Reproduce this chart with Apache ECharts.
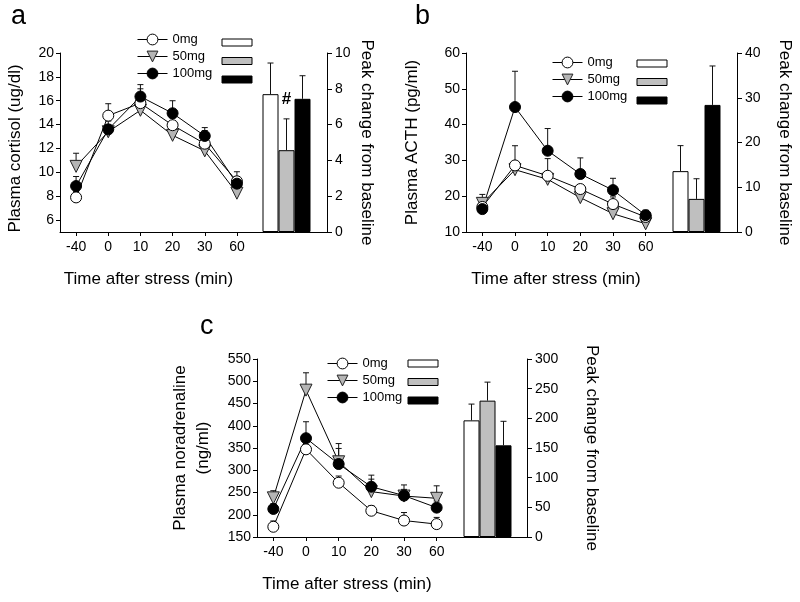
<!DOCTYPE html>
<html><head><meta charset="utf-8">
<script src="https://cdn.jsdelivr.net/npm/echarts@6/dist/echarts.min.js"></script>
<style>html,body{margin:0;padding:0;background:#fff}#c{width:800px;height:602px}</style>
</head><body><div id="c"></div>
<script>
// ---------- DATA ----------
const times = ['-40', '0', '10', '20', '30', '60'];
const doses = ['0mg', '50mg', '100mg'];
const barKeys = ['bar0mg', 'bar50mg', 'bar100mg'];

// Panel a: plasma cortisol (ug/dl)
const cortisol0 = [7.9, 14.75, 15.8, 13.95, 12.4, 9.25];
const cortisol50 = [10.5, 13.4, 15.2, 13.1, 11.8, 8.25];
const cortisol100 = [8.85, 13.6, 16.35, 14.95, 13.05, 9.05];
const cortisol0Err = [0.5, 1.0, 1.2, 0.6, 1.1, 0.8];
const cortisol50Err = [1.1, 0.6, 0.5, 0.5, 0.5, 0.4];
const cortisol100Err = [0.8, 0.7, 1.0, 1.05, 0.7, 0.6];
const cortisolPeak = [7.7, 4.57, 7.44];
const cortisolPeakErr = [1.74, 1.75, 1.29];
const cortisolTicks = [6, 8, 10, 12, 14, 16, 18, 20];
const cortisolMark = ['', '#', ''];

// Panel b: plasma ACTH (pg/ml)
const acth0 = [17.0, 28.6, 25.7, 22.0, 17.8, 14.2];
const acth50 = [18.0, 27.4, 24.7, 19.6, 15.1, 12.3];
const acth100 = [16.4, 44.9, 32.7, 26.2, 21.7, 14.7];
const acth0Err = [2.0, 5.5, 4.8, 1.0, 2.0, 1.0];
const acth50Err = [2.5, 2.0, 1.5, 1.0, 1.0, 1.0];
const acth100Err = [2.0, 10.0, 6.2, 4.5, 3.3, 1.4];
const acthPeak = [13.6, 7.4, 28.4];
const acthPeakErr = [5.7, 4.5, 8.7];

// Panel c: plasma noradrenaline (ng/ml)
const nor0 = [173, 347, 272, 209, 187, 179];
const nor50 = [238, 480, 319, 252, 242, 237];
const nor100 = [213, 372, 314, 263, 243, 216];
const nor0Err = [13, 20, 15, 11, 18, 15];
const nor50Err = [16, 39, 41, 28, 15, 28];
const nor100Err = [12, 37, 35, 26, 24, 15];
const norPeak = [196.6, 229.8, 154.5];
const norPeakErr = [27.4, 31.2, 40.5];

// ---------- STYLE ----------
const FONT = 'Liberation Sans, Arial, sans-serif';
const BAR_W = 16;
const GRAY_TRI = '#b5b5b5';
const GRAY_BAR = '#bfbfbf';
const TICK_FS = 14;
const TITLE_FS = 17;

const chart = echarts.init(document.getElementById('c'), null, {renderer: 'canvas'});

function errRender(params, api) {
  const x = api.value(0), m = api.value(1), e = api.value(2);
  const k = api.value(3);
  const shift = isNaN(k) ? 0 : (k - 1) * BAR_W;
  const p0 = api.coord([x, m]);
  const p1 = api.coord([x, m + e]);
  const cx = p0[0] + shift;
  const st = {stroke: '#111', lineWidth: 1};
  return {type: 'group', children: [
    {type: 'line', shape: {x1: cx, y1: p0[1], x2: cx, y2: p1[1]}, style: st},
    {type: 'line', shape: {x1: cx - 3, y1: p1[1], x2: cx + 3, y2: p1[1]}, style: st}
  ]};
}

function errSeries(vals, errs, idx) {
  return {type: 'custom', xAxisIndex: idx, yAxisIndex: idx, z: 1, silent: true,
    renderItem: errRender, encode: {x: 0, y: 1},
    data: vals.map((v, i) => [i, v, errs[i]])};
}
function barErrSeries(vals, errs, idx) {
  return {type: 'custom', xAxisIndex: idx, yAxisIndex: idx, z: 4, silent: true,
    renderItem: errRender, encode: {x: 0, y: 1},
    data: vals.map((v, i) => [0, v, errs[i], i])};
}
const symStyles = {
  '0mg': {symbol: 'circle', symbolSize: 11, symbolRotate: 0, itemStyle: {color: '#fff', borderColor: '#000', borderWidth: 1}},
  '50mg': {symbol: 'triangle', symbolSize: 12, symbolRotate: 180, itemStyle: {color: GRAY_TRI, borderColor: '#222', borderWidth: 1}},
  '100mg': {symbol: 'circle', symbolSize: 11, symbolRotate: 0, itemStyle: {color: '#000', borderColor: '#000', borderWidth: 1}}
};
function lineSeries(name, vals, idx) {
  const s = symStyles[name];
  return Object.assign({type: 'line', name: name, xAxisIndex: idx, yAxisIndex: idx, z: 3,
    data: vals, lineStyle: {color: '#000', width: 1}, showSymbol: true}, s);
}
const barColors = ['#fff', GRAY_BAR, '#000'];
function barSeries(k, val, idx, mark) {
  const s = {type: 'bar', name: barKeys[k], xAxisIndex: idx, yAxisIndex: idx, z: 2,
    data: [val], barWidth: BAR_W, barGap: '0%',
    itemStyle: {color: barColors[k], borderColor: '#000', borderWidth: 1}};
  if (mark && mark[k]) {
    s.label = {show: true, position: 'top', distance: 42, formatter: mark[k],
      fontSize: 17, fontWeight: 'bold', color: '#000', fontFamily: FONT};
  }
  return s;
}

const grids = [
  {left: 60, top: 53, width: 193, height: 179},
  {left: 246, top: 53, width: 81, height: 179},
  {left: 466, top: 53, width: 196, height: 179},
  {left: 656, top: 53, width: 81, height: 179},
  {left: 257, top: 359, width: 196, height: 178},
  {left: 448, top: 359, width: 79, height: 178}
];

const axLine = {show: true, lineStyle: {color: '#000', width: 1}};
function lineX(idx) {
  return {type: 'category', gridIndex: idx, data: times, boundaryGap: true,
    axisLine: axLine, axisTick: {show: true, alignWithLabel: true, length: 4, lineStyle: {color: '#000'}},
    axisLabel: {color: '#000', fontSize: TICK_FS, margin: 8, fontFamily: FONT},
    name: 'Time after stress (min)', nameLocation: 'middle', nameGap: 39,
    nameTextStyle: {color: '#000', fontSize: TITLE_FS, fontFamily: FONT, padding: [0, 16, 0, 0]}};
}
function barX(idx) {
  return {type: 'category', gridIndex: idx, data: ['peak'], axisLine: axLine,
    axisTick: {show: false}, axisLabel: {show: false}};
}
function leftY(idx, name, min, max, interval, gap, extra) {
  const a = {type: 'value', gridIndex: idx, position: 'left', min: min, max: max, interval: interval,
    axisLine: axLine, axisTick: {show: true, length: 4, lineStyle: {color: '#000'}},
    axisLabel: {color: '#000', fontSize: TICK_FS, margin: 6, fontFamily: FONT},
    splitLine: {show: false},
    name: name, nameLocation: 'middle', nameRotate: 90, nameGap: gap,
    nameTextStyle: {color: '#000', fontSize: TITLE_FS, fontFamily: FONT, lineHeight: 23}};
  return Object.assign(a, extra || {});
}
function rightY(idx, min, max, interval, gap) {
  return {type: 'value', gridIndex: idx, position: 'right', min: min, max: max, interval: interval,
    axisLine: axLine, axisTick: {show: true, length: 5, lineStyle: {color: '#000'}},
    axisLabel: {color: '#000', fontSize: TICK_FS, margin: 8, fontFamily: FONT},
    splitLine: {show: false},
    name: 'Peak change from baseline', nameLocation: 'middle', nameRotate: -90, nameGap: gap,
    nameTextStyle: {color: '#000', fontSize: TITLE_FS, fontFamily: FONT}};
}

function lineLegend(left, top) {
  return {show: true, orient: 'vertical', left: left, top: top, padding: 0,
    itemWidth: 30, itemHeight: 13.5, itemGap: 4, selectedMode: false, data: doses,
    itemStyle: {borderWidth: 1}, lineStyle: {width: 1, color: '#000'},
    textStyle: {color: '#000', fontSize: 13, fontFamily: FONT}};
}
function barLegend(left, top) {
  return {show: true, orient: 'vertical', left: left, top: top, padding: 0,
    itemWidth: 30, itemHeight: 7, itemGap: 10.5, selectedMode: false, icon: 'rect',
    itemStyle: {borderWidth: 1, borderColor: '#000'},
    data: barKeys, formatter: () => '', textStyle: {fontSize: 1}};
}

const option = {
  animation: false,
  backgroundColor: '#fff',
  textStyle: {fontFamily: FONT},
  title: [
    {text: 'a', left: 6, top: -2, textStyle: {fontSize: 27, fontWeight: 'normal', color: '#000', fontFamily: FONT}},
    {text: 'b', left: 410, top: -2, textStyle: {fontSize: 27, fontWeight: 'normal', color: '#000', fontFamily: FONT}},
    {text: 'c', left: 195, top: 308, textStyle: {fontSize: 27, fontWeight: 'normal', color: '#000', fontFamily: FONT}}
  ],
  legend: [
    lineLegend(137, 33), barLegend(221.5, 38.5),
    lineLegend(552, 56), barLegend(636.5, 59.5),
    lineLegend(327, 357), barLegend(407.5, 359.5)
  ],
  grid: grids,
  xAxis: [lineX(0), barX(1), lineX(2), barX(3), lineX(4), barX(5)],
  yAxis: [
    leftY(0, 'Plasma cortisol (ug/dl)', 5, 20, null, 36, {
      interval: undefined,
      axisLabel: {color: '#000', fontSize: TICK_FS, margin: 6, fontFamily: FONT, customValues: cortisolTicks},
      axisTick: {show: true, length: 4, lineStyle: {color: '#000'}, customValues: cortisolTicks},
      nameTextStyle: {color: '#000', fontSize: TITLE_FS, fontFamily: FONT, padding: [0, 12, 0, 0]}
    }),
    rightY(1, 0, 10, 2, 31),
    leftY(2, 'Plasma ACTH (pg/ml)', 10, 60, 10, 42),
    rightY(3, 0, 40, 10, 39),
    leftY(4, 'Plasma noradrenaline\n(ng/ml)', 150, 550, 50, 42),
    rightY(5, 0, 300, 50, 56)
  ],
  series: [
    errSeries(cortisol50, cortisol50Err, 0),
    errSeries(cortisol0, cortisol0Err, 0),
    errSeries(cortisol100, cortisol100Err, 0),
    lineSeries('50mg', cortisol50, 0),
    lineSeries('0mg', cortisol0, 0),
    lineSeries('100mg', cortisol100, 0),
    barSeries(0, cortisolPeak[0], 1, cortisolMark),
    barSeries(1, cortisolPeak[1], 1, cortisolMark),
    barSeries(2, cortisolPeak[2], 1, cortisolMark),
    barErrSeries(cortisolPeak, cortisolPeakErr, 1),

    errSeries(acth50, acth50Err, 2),
    errSeries(acth0, acth0Err, 2),
    errSeries(acth100, acth100Err, 2),
    lineSeries('50mg', acth50, 2),
    lineSeries('0mg', acth0, 2),
    lineSeries('100mg', acth100, 2),
    barSeries(0, acthPeak[0], 3),
    barSeries(1, acthPeak[1], 3),
    barSeries(2, acthPeak[2], 3),
    barErrSeries(acthPeak, acthPeakErr, 3),

    errSeries(nor50, nor50Err, 4),
    errSeries(nor0, nor0Err, 4),
    errSeries(nor100, nor100Err, 4),
    lineSeries('50mg', nor50, 4),
    lineSeries('0mg', nor0, 4),
    lineSeries('100mg', nor100, 4),
    barSeries(0, norPeak[0], 5),
    barSeries(1, norPeak[1], 5),
    barSeries(2, norPeak[2], 5),
    barErrSeries(norPeak, norPeakErr, 5)
  ]
};
chart.setOption(option);
</script>
</body></html>
